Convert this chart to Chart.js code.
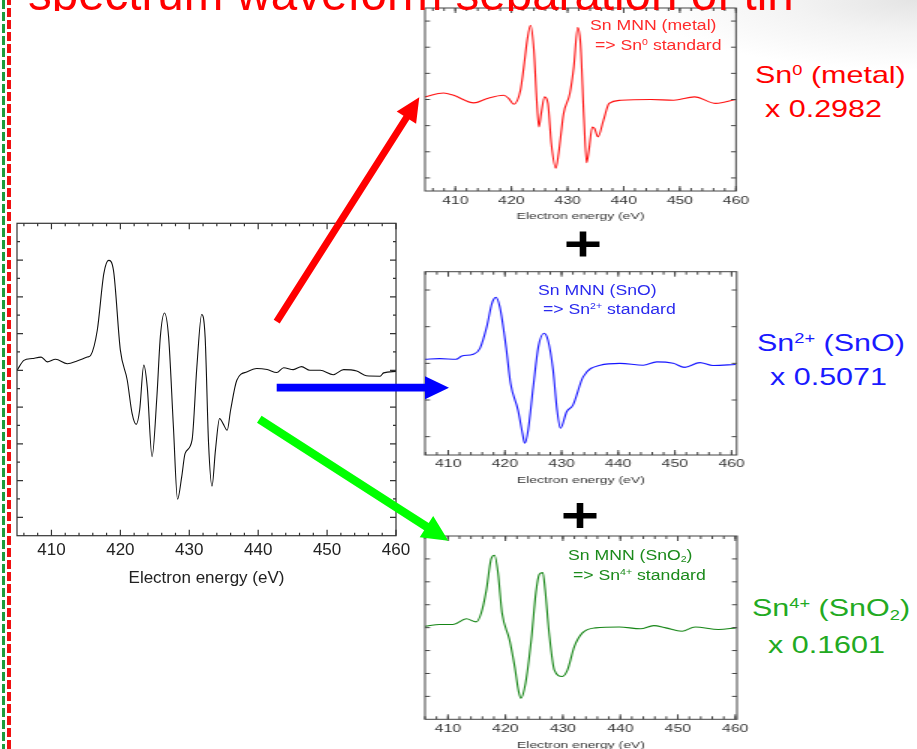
<!DOCTYPE html>
<html>
<head>
<meta charset="utf-8">
<script src="https://cdn.jsdelivr.net/npm/chart.js@4"></script>
<style>
html,body{margin:0;padding:0;background:#fff;}
body{width:917px;height:749px;position:relative;overflow:hidden;font-family:"Liberation Sans",Arial,sans-serif;}
.abs{position:absolute;}
canvas.st{transform:scaleX(1.5);transform-origin:0 0;}
.lbl{position:absolute;white-space:nowrap;line-height:1;transform-origin:0 0;}
.lbl sup{font-size:.6em;vertical-align:.55em;line-height:0;}
.lbl sub{font-size:.6em;vertical-align:-.25em;line-height:0;}
.sm{font-size:14px;transform:scaleX(1.26);}
.big{font-size:24px;transform:scaleX(1.27);}
</style>
</head>
<body>
<div class="abs" style="left:640px;top:0;width:277px;height:70px;background:radial-gradient(ellipse 100% 100% at 100% 0%, #e4e4e4 0%, rgba(238,238,238,.7) 45%, rgba(255,255,255,0) 100%);"></div>
<div class="abs" style="left:2px;top:0;width:3px;height:749px;background:repeating-linear-gradient(to bottom,#1c9c3c 0 9px,transparent 9px 12px);"></div>
<div class="abs" style="left:7px;top:-4px;width:4px;height:753px;background:repeating-linear-gradient(to bottom,#f01010 0 9px,transparent 9px 12px);"></div>

<canvas id="cMain" class="abs" style="left:0;top:200px" width="420" height="400"></canvas>
<canvas id="cRed" class="abs st" style="left:410px;top:0" width="228" height="230"></canvas>
<canvas id="cBlue" class="abs st" style="left:410px;top:260px" width="228" height="234"></canvas>
<canvas id="cGreen" class="abs st" style="left:410px;top:525px" width="228" height="234"></canvas>

<div class="lbl sm" style="left:590px;top:18px;color:#ff2a2a">Sn MNN (metal)</div>
<div class="lbl sm" style="left:595px;top:37.5px;color:#ff2a2a">=&gt; Sn<sup>0</sup> standard</div>
<div class="lbl sm" style="left:538px;top:283px;color:#2a2aee">Sn MNN (SnO)</div>
<div class="lbl sm" style="left:543px;top:302px;color:#2a2aee">=&gt; Sn<sup>2+</sup> standard</div>
<div class="lbl sm" style="left:568px;top:548px;color:#1b8a1b">Sn MNN (SnO<sub>2</sub>)</div>
<div class="lbl sm" style="left:573px;top:567.5px;color:#1b8a1b">=&gt; Sn<sup>4+</sup> standard</div>

<div class="lbl big" style="left:755px;top:63px;color:#ff0000">Sn<sup>0</sup> (metal)</div>
<div class="lbl big" style="left:765px;top:97px;color:#ff0000">x 0.2982</div>
<div class="lbl big" style="left:757px;top:331px;color:#1a1aff">Sn<sup>2+</sup> (SnO)</div>
<div class="lbl big" style="left:770px;top:365px;color:#1a1aff">x 0.5071</div>
<div class="lbl big" style="left:752px;top:596px;color:#22aa22">Sn<sup>4+</sup> (SnO<sub>2</sub>)</div>
<div class="lbl big" style="left:768px;top:633px;color:#22aa22">x 0.1601</div>

<svg id="deco" class="abs" style="left:0;top:0;pointer-events:none" width="917" height="749"></svg>

<script>
// tick labels shared by every panel
const xTickLabels = [410, 420, 430, 440, 450, 460];

// measured sum spectrum (black)
const mainE = [405.0,406.0,407.2,408.5,409.4,410.6,412.3,413.8,415.2,415.7,416.65,417.6,418.3,419.0,420.0,421.0,421.7,422.3,422.8,423.4,423.9,424.6,425.3,425.8,426.4,427.0,427.7,428.3,428.9,429.4,430.4,431.1,431.8,432.3,432.8,433.3,433.8,434.4,434.9,435.5,436.0,436.9,438.4,439.8,441.3,442.7,443.7,445.1,446.3,447.5,449.0,450.9,452.4,454.3,455.7,457.7,458.2,460.0];
const mainY = [4.50,4.77,4.82,4.86,4.73,4.80,4.68,4.76,4.86,4.91,5.59,7.13,7.49,7.22,5.05,4.23,3.33,3.03,3.42,4.64,4.05,2.15,3.78,5.41,6.06,5.41,2.96,0.99,1.60,2.24,2.60,4.59,6.02,5.41,2.51,1.35,2.33,3.19,3.05,2.87,3.42,4.23,4.46,4.55,4.52,4.44,4.57,4.52,4.60,4.50,4.50,4.38,4.52,4.48,4.35,4.34,4.43,4.47];

// Sn0 metal standard (red)
const redE = [404.6,407.9,409.7,413.3,415.7,418.6,419.5,420.4,421.6,422.2,422.8,423.4,424.0,424.5,424.9,425.3,425.9,426.5,427.1,427.9,428.4,429.3,430.4,431.1,431.8,432.3,432.9,433.4,433.8,434.4,434.8,435.4,436.4,437.4,439.5,444.8,448.9,452.6,456.4,460.0];
const redY = [3.60,3.75,3.66,3.37,3.54,3.66,3.54,3.32,3.85,4.74,5.76,6.34,5.38,3.47,2.45,2.97,3.60,3.35,1.82,0.87,1.44,2.97,3.73,4.74,6.25,5.64,2.84,1.08,1.56,2.45,2.39,2.07,2.71,3.35,3.47,3.50,3.47,3.60,3.35,3.50];

// Sn2+ SnO standard (blue)
const blueE = [405.9,408.5,411.4,412.4,414.4,415.6,416.8,417.7,418.4,419.1,420.2,421.0,422.3,423.1,423.5,424.1,425.0,425.9,426.9,427.6,428.5,429.2,429.8,430.9,432.0,433.8,436.8,440.3,444.4,446.8,449.7,451.7,454.4,456.7,460.7];
const blueY = [2.61,2.63,2.61,2.70,2.75,2.91,3.50,4.13,4.30,4.04,2.95,1.95,1.23,0.59,0.32,0.68,1.86,2.95,3.32,3.13,2.32,1.23,0.73,1.18,1.36,2.13,2.45,2.50,2.45,2.54,2.50,2.39,2.52,2.44,2.47];

// Sn4+ SnO2 standard (green)
const greenE = [406.0,408.6,410.9,413.2,414.9,415.8,416.7,417.5,418.1,418.7,419.4,420.7,421.6,422.3,422.7,423.5,424.5,425.3,425.9,426.5,426.9,427.6,428.5,429.9,430.8,432.0,433.4,435.7,439.8,443.5,445.8,447.9,450.7,453.0,457.1,460.1];
const greenY = [4.06,4.14,4.14,4.39,4.25,4.65,5.67,6.99,7.16,6.40,4.65,3.48,2.31,1.21,0.92,1.58,3.48,5.53,6.33,6.40,5.67,3.77,2.16,1.87,2.16,3.18,3.77,3.99,4.03,3.95,4.09,3.99,3.84,4.03,3.92,3.99];

// unlabelled y tick positions (axis units)
const mainYMajor = [0.5,1.5,2.5,3.5,4.5,5.5,6.5,7.5], mainYMinor = [1,2,3,4,5,6,7,8];
const redYMajor = [0.5,1.5,2.5,3.5,4.5,5.5,6.5];
const blueYMajor = [0.5,1.5,2.5,3.5,4.5];
const greenYMajor = [1,2,3,4,5,6,7];

const FONT = "'Liberation Sans', Arial, sans-serif";

// frame with inward ticks on all four sides
const frameTicks = {
  id: 'frameTicks',
  afterDatasetsDraw(chart, args, o) {
    const {ctx, chartArea: a, scales: {x, y}} = chart;
    ctx.save();
    ctx.strokeStyle = o.color;
    ctx.lineWidth = o.width;
    ctx.strokeRect(a.left, a.top, a.right - a.left, a.bottom - a.top);
    ctx.beginPath();
    const xt = (v, len) => {
      const p = x.getPixelForValue(v);
      ctx.moveTo(p, a.bottom); ctx.lineTo(p, a.bottom - len);
      ctx.moveTo(p, a.top); ctx.lineTo(p, a.top + len);
    };
    const yt = (v, len) => {
      const p = y.getPixelForValue(v), l = len / o.xs;
      ctx.moveTo(a.left, p); ctx.lineTo(a.left + l, p);
      ctx.moveTo(a.right, p); ctx.lineTo(a.right - l, p);
    };
    for (let v = Math.ceil(x.min / 2) * 2; v <= x.max; v += 2) xt(v, o.minor);
    xTickLabels.forEach(v => xt(v, o.major));
    (o.yMajor || []).forEach(v => yt(v, o.major));
    (o.yMinor || []).forEach(v => yt(v, o.minor));
    ctx.stroke();
    ctx.restore();
  }
};

function spectrum(id, e, vals, o) {
  return new Chart(document.getElementById(id), {
    type: 'line',
    data: {
      datasets: [{
        data: e.map((x, i) => ({x, y: vals[i]})),
        borderColor: o.color, borderWidth: o.lw, pointRadius: 0,
        cubicInterpolationMode: 'monotone', fill: false
      }]
    },
    options: {
      responsive: false, maintainAspectRatio: false, animation: false,
      layout: { padding: o.pad },
      plugins: {
        legend: { display: false }, tooltip: { enabled: false },
        frameTicks: o.frame
      },
      scales: {
        x: {
          type: 'linear', min: o.xMin, max: o.xMax,
          afterBuildTicks: s => { s.ticks = xTickLabels.map(value => ({value})); },
          afterFit: s => { s.height = o.axisH; s.paddingLeft = 0; s.paddingRight = 0; },
          grid: { display: false, drawTicks: false }, border: { display: false },
          ticks: { autoSkip: false, maxRotation: 0, padding: o.tickPad, color: o.textColor,
                   font: { family: FONT, size: o.tickSize } },
          title: { display: true, text: 'Electron energy (eV)', color: o.textColor,
                   font: { family: FONT, size: o.titleSize }, padding: { top: 0, bottom: o.titlePadB } }
        },
        y: { display: false, min: 0, max: o.yMax }
      }
    },
    plugins: [frameTicks]
  });
}

spectrum('cMain', mainE, mainY, {
  color: '#111', lw: 1.1, xMin: 405, xMax: 460, yMax: 8.5,
  pad: { left: 17, right: 24, top: 23.3, bottom: 0 }, axisH: 64.3,
  tickPad: 4, tickSize: 17, titleSize: 17, titlePadB: 11.8, textColor: '#222',
  frame: { color: '#333', width: 1.2, xs: 1, major: 6, minor: 3, yMajor: mainYMajor, yMinor: mainYMinor }
});
spectrum('cRed', redE, redY, {
  color: '#ff1010', lw: 1.1, xMin: 404.6, xMax: 460, yMax: 7,
  pad: { left: 10, right: 10.67, top: 8, bottom: 0 }, axisH: 39,
  tickPad: 3.5, tickSize: 10.5, titleSize: 9.3, titlePadB: 8.3, textColor: '#333',
  frame: { color: '#444', width: 1, xs: 1.5, major: 5, minor: 3, yMajor: redYMajor }
});
spectrum('cBlue', blueE, blueY, {
  color: '#1515ff', lw: 1.1, xMin: 405.9, xMax: 460.9, yMax: 5,
  pad: { left: 10, right: 10.2, top: 11.7, bottom: 0 }, axisH: 39,
  tickPad: 2.7, tickSize: 10.5, titleSize: 9.3, titlePadB: 7.6, textColor: '#333',
  frame: { color: '#444', width: 1, xs: 1.5, major: 5, minor: 3, yMajor: blueYMajor }
});
spectrum('cGreen', greenE, greenY, {
  color: '#158515', lw: 1.1, xMin: 406, xMax: 460.3, yMax: 8,
  pad: { left: 10, right: 10, top: 11, bottom: 0 }, axisH: 39.7,
  tickPad: 3.5, tickSize: 10.5, titleSize: 9.3, titlePadB: 8.3, textColor: '#333',
  frame: { color: '#444', width: 1, xs: 1.5, major: 5, minor: 3, yMajor: greenYMajor }
});

// arrows, plus signs and the clipped slide title
function arrow(x1, y1, x2, y2, w, hw, hl, color) {
  const L = Math.hypot(x2 - x1, y2 - y1), ux = (x2 - x1) / L, uy = (y2 - y1) / L, nx = -uy, ny = ux;
  const bx = x2 - ux * hl, by = y2 - uy * hl;
  const pts = [[x1 + nx * w / 2, y1 + ny * w / 2], [bx + nx * w / 2, by + ny * w / 2], [bx + nx * hw / 2, by + ny * hw / 2],
               [x2, y2], [bx - nx * hw / 2, by - ny * hw / 2], [bx - nx * w / 2, by - ny * w / 2], [x1 - nx * w / 2, y1 - ny * w / 2]];
  return `<polygon points="${pts.map(p => p.map(n => n.toFixed(1)).join(',')).join(' ')}" fill="${color}"/>`;
}
const plus = (cx, cy) =>
  `<rect x="${cx - 16.5}" y="${cy - 2.5}" width="33" height="5.5" fill="#000"/>` +
  `<rect x="${cx - 3.3}" y="${cy - 12.5}" width="6.6" height="25" fill="#000"/>`;

document.getElementById('deco').innerHTML =
  `<defs><clipPath id="tc"><rect x="0" y="0" width="917" height="11"/></clipPath></defs>` +
  `<text x="28" y="10" clip-path="url(#tc)" font-family="${FONT}" font-size="47.5" fill="#ff0000">spectrum waveform separation of tin</text>` +
  arrow(276.7, 321.7, 419.3, 97.3, 7, 23, 24, '#ff0000') +
  arrow(276.7, 387.7, 449, 387.7, 7.7, 23, 24, '#0000ff') +
  arrow(259.3, 419.3, 448.3, 540.7, 8.4, 25, 26, '#00ff00') +
  plus(583, 244) + plus(580, 515.5);
</script>
</body>
</html>
